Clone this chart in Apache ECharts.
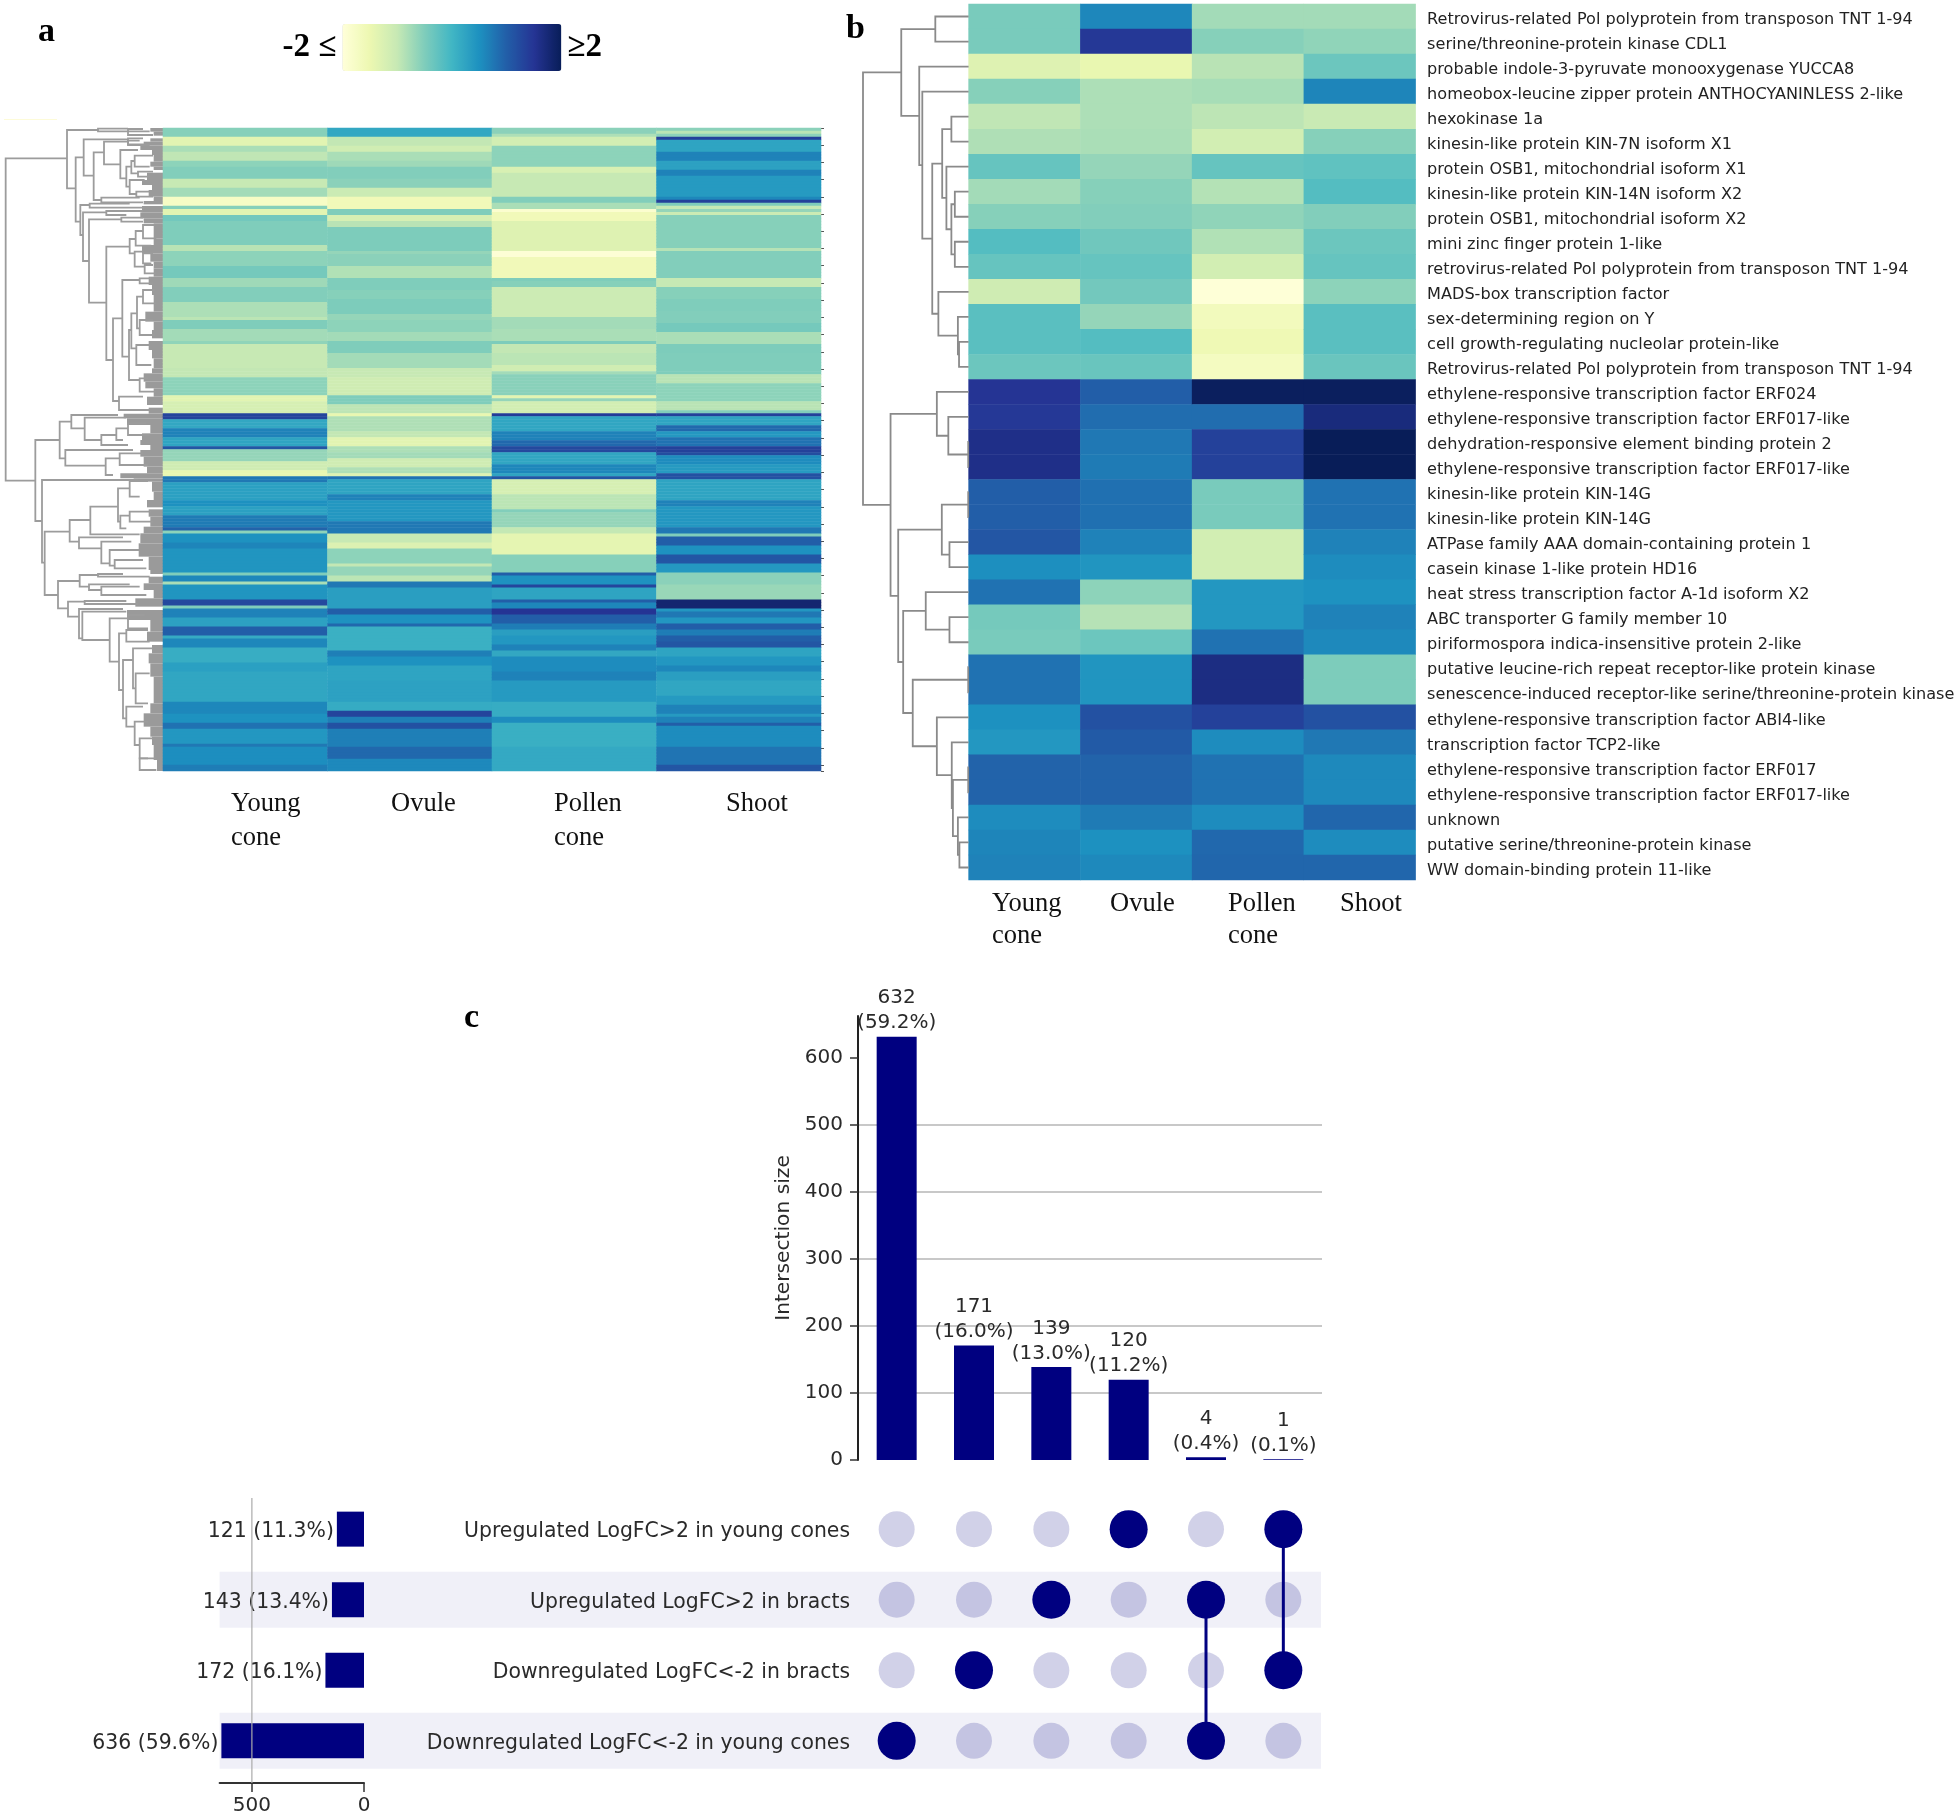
<!DOCTYPE html>
<html>
<head>
<meta charset="utf-8">
<title>Heatmaps and UpSet plot</title>
<style>html,body{margin:0;padding:0;background:#fff}#chart{width:1960px;height:1818px}</style>
<script src="https://cdn.jsdelivr.net/npm/echarts@6/dist/echarts.min.js"></script>
</head>
<body>
<div id="chart"></div>
<script>
// ---------- Shared ----------
const tissues = ['Young cone', 'Ovule', 'Pollen cone', 'Shoot'];
const ylGnBu = ['#ffffd9','#edf8b1','#c7e9b4','#7fcdbb','#41b6c4','#1d91c0','#225ea8','#253494','#081d58'];

// ---------- Panel a: read as bands [first row, z-score] per tissue ----------
const rowCountA = 214;
const youngBands = [[0,-.55],[3,-1.35],[6,-.8],[8,-.95],[11,-.6],[13,-.52],[17,-1],[20,-.75],[23,-1.75],[26,-.55],[27,-1.35],[29,-.4],[31,-.5],[39,-.9],[41,-.6],[46,-.42],[50,-.72],[53,-.52],[58,-.82],[63,-.92],[64,-.5],[67,-.75],[71,-.62],[72,-1],[80,-.97],[83,-.6],[89,-1.35],[91,-1.2],[95,1.3],[97,.2],[100,.65],[103,.25],[106,1.1],[107,-.65],[111,-1.1],[114,-1.45],[116,.75],[118,.3],[124,.5],[126,.3],[129,.72],[133,.95],[134,-.6],[135,.48],[138,.62],[140,.45],[148,-.5],[149,.6],[151,-.8],[152,.45],[157,1.25],[159,-.5],[160,.65],[163,.28],[166,1],[169,.15],[170,.6],[173,.12],[178,.3],[181,.22],[191,.6],[195,.48],[198,.8],[200,.42],[205,.75],[206,.53],[212,.7]];
const ovuleBands = [[0,.2],[3,-.97],[6,-1.12],[8,-.8],[11,-.72],[13,-.52],[17,-.58],[20,-1.05],[23,-1.6],[27,-.5],[29,-1.2],[31,-.9],[33,-.48],[41,-.65],[42,-.58],[46,-.85],[50,-.5],[54,-.55],[57,-.48],[62,-.65],[64,-.6],[68,-.75],[71,-.5],[75,-.75],[80,-1],[83,-1.1],[89,-.5],[92,-.93],[95,-1.45],[96,-.83],[101,-.97],[103,-1.35],[106,-.82],[108,-.75],[110,-1.1],[113,-.83],[115,-1.3],[116,.8],[117,.25],[122,.65],[124,.42],[131,.75],[135,-1],[138,-1.28],[140,-.6],[145,-.97],[146,-.65],[149,-.92],[151,.75],[153,.32],[160,1],[162,.48],[165,.9],[166,.08],[174,.68],[176,.48],[179,.25],[184,.28],[191,.15],[194,1.3],[196,.68],[198,1.15],[200,.68],[206,.9],[210,.58]];
const pollenBands = [[0,-.58],[2,-.82],[3,-1.15],[6,-.6],[13,-1.22],[15,-1],[23,-.52],[25,-.8],[27,-1.88],[28,-1.6],[31,-1.3],[41,-1.95],[43,-1.6],[50,-.5],[51,-.55],[53,-1.07],[63,-.75],[67,-.8],[71,-.48],[72,-.97],[75,-.92],[79,-1.12],[81,-.75],[82,-.57],[89,-1.35],[90,-.65],[91,-1.15],[95,1.4],[96,.22],[101,.65],[104,.9],[106,1.25],[108,.22],[112,.6],[115,.25],[116,1.1],[117,-1.2],[122,-.92],[127,-.52],[128,-.65],[133,-.98],[135,-1.4],[142,-.55],[148,1],[149,.48],[152,1.3],[153,.25],[157,1],[158,.6],[160,1.5],[162,1],[165,.7],[167,.32],[169,.42],[172,.65],[174,.2],[176,.55],[181,.65],[184,.38],[191,.14],[196,.55],[198,.1],[206,.18]];
const shootBands = [[0,-.58],[1,-.92],[2,-.6],[3,1.35],[4,.25],[8,.65],[11,.28],[14,.65],[16,.38],[23,.6],[24,1.35],[25,-.5],[26,-1],[27,-.65],[28,-1.05],[29,-.55],[40,-.88],[41,-.52],[50,-1],[53,-.55],[57,-.5],[61,-.52],[65,-.42],[68,-.8],[72,-.48],[75,-.5],[82,-.9],[85,-.6],[91,-.9],[94,-.52],[95,1.35],[96,.25],[99,.9],[101,.4],[103,.8],[106,1.35],[108,1.2],[109,.55],[112,.38],[115,1.15],[117,.25],[124,.65],[126,.42],[133,.75],[135,-.5],[136,1],[139,.48],[142,1.1],[145,.4],[148,-.58],[152,-.68],[157,1.8],[160,.42],[161,.75],[163,.42],[165,1],[167,.7],[169,1],[171,1.1],[173,.25],[176,.42],[179,.6],[181,.32],[184,.22],[189,.38],[192,.65],[195,.38],[196,.65],[198,1],[199,.55],[206,.78],[212,1.1]];

// Panel a dendrogram: merges [distance, top leaf pos, bottom leaf pos, top child distance, bottom child distance]
const dendroAMerges = [
[472,100,1067,288,383],[288,15,190,195,262],[195,11,19,105,40],[105,12,30,60,30],[262,97,290,238,248],[238,43,152,105,208],[105,40,58,60,50],[208,82,225,177,185],[177,50,118,105,128],[105,47,60,70,40],[128,75,160,75,110],[110,125,185,95,100],[95,108,145,85,75],[85,92,125,30,40],[75,140,155,30,40],[100,165,207,55,80],[80,200,215,40,30],[185,218,232,70,60],
[248,240,330,220,240],[220,236,248,100,55],[240,262,408,170,222],[170,258,270,60,110],[222,283,533,125,170],[125,278,290,60,60],[170,365,705,100,150],[100,342,385,82,85],[82,318,362,60,35],[60,300,340,25,20],[85,380,425,60,55],[60,385,415,30,35],[55,420,445,30,20],[150,580,828,122,132],[122,465,695,70,102],[70,460,475,35,30],[102,615,765,95,70],[95,565,670,78,80],[78,515,610,60,70],[60,495,535,25,20],[70,585,630,30,25],[80,660,720,40,35],[70,760,800,45,20],[132,815,855,60,40],
[383,945,1188,310,363],[310,890,1000,275,293],[275,870,910,135,235],[235,878,945,110,185],[185,930,960,140,105],[140,910,945,105,120],[105,895,930,50,40],[293,975,1022,90,172],[172,1000,1050,130,150],[130,985,1020,60,45],
[363,1065,1313,75,355],[355,1220,1410,280,315],[280,1185,1250,218,252],[218,1145,1228,135,70],[135,1090,1190,100,128],[100,1068,1115,45,70],[128,1172,1210,100,110],[100,1160,1190,35,30],[252,1237,1270,120,185],[185,1250,1315,95,160],[160,1275,1322,70,145],[145,1305,1330,60,50],
[315,1368,1450,250,285],[250,1350,1385,195,222],[195,1347,1355,120,40],[222,1378,1395,100,185],[185,1385,1410,70,50],[285,1430,1475,235,252],[235,1428,1437,110,75],[252,1452,1540,120,242],[242,1460,1545,110,160],[160,1480,1610,105,132],[105,1470,1510,55,45],[132,1525,1695,110,120],[110,1515,1550,45,40],[120,1605,1780,90,110],[90,1570,1690,30,82],[82,1645,1735,40,45],[110,1745,1805,60,85],[85,1790,1860,45,70],[70,1840,1900,30,45],[70,1900,1935,20,20]
];
// Dense leaf area of the dendrogram: [first pos, last pos, depth]
const dendroALeaves = [
[9,20,38],[20,32,28],[40,50,38],[50,62,58],[62,75,68],[75,90,33],[90,110,28],[110,125,38],[125,135,28],[143,165,48],[165,180,63],[180,195,33],[195,215,43],[215,228,28],[228,238,58],[243,262,63],[262,280,68],[280,295,58],[295,315,28],[315,340,28],[340,360,28],[360,385,63],[385,410,38],[410,430,28],[430,455,28],[455,480,43],[480,510,33],[510,540,28],[540,560,28],[560,590,53],[590,615,28],[615,640,33],[648,675,43],[675,700,33],[700,730,28],[730,745,33],[745,770,58],[770,790,53],[790,815,28],[815,840,48],[848,866,43],[866,880,118],[880,900,108],[900,925,38],[925,945,63],[945,960,68],[960,975,38],[975,995,68],[995,1025,58],[1025,1045,48],[1045,1060,128],[1060,1070,88],[1070,1100,33],[1100,1125,28],[1125,1147,48],[1153,1175,43],[1175,1205,38],[1205,1225,58],[1225,1255,68],[1255,1295,73],[1295,1335,43],[1335,1347,38],[1355,1375,43],[1375,1395,58],[1395,1420,28],[1420,1445,83],[1455,1485,108],[1485,1520,38],[1520,1550,48],[1560,1585,33],[1585,1615,43],[1615,1655,38],[1655,1695,28],[1695,1735,28],[1735,1765,38],[1765,1805,58],[1805,1835,38],[1835,1860,33],[1860,1905,28],[1905,1938,18]
];

// ---------- Panel b ----------
const geneLabels = ['Retrovirus-related Pol polyprotein from transposon TNT 1-94','serine/threonine-protein kinase CDL1','probable indole-3-pyruvate monooxygenase YUCCA8','homeobox-leucine zipper protein ANTHOCYANINLESS 2-like','hexokinase 1a','kinesin-like protein KIN-7N isoform X1','protein OSB1, mitochondrial isoform X1','kinesin-like protein KIN-14N isoform X2','protein OSB1, mitochondrial isoform X2','mini zinc finger protein 1-like','retrovirus-related Pol polyprotein from transposon TNT 1-94','MADS-box transcription factor','sex-determining region on Y','cell growth-regulating nucleolar protein-like','Retrovirus-related Pol polyprotein from transposon TNT 1-94','ethylene-responsive transcription factor ERF024','ethylene-responsive transcription factor ERF017-like','dehydration-responsive element binding protein 2','ethylene-responsive transcription factor ERF017-like','kinesin-like protein KIN-14G','kinesin-like protein KIN-14G','ATPase family AAA domain-containing protein 1','casein kinase 1-like protein HD16','heat stress transcription factor A-1d isoform X2','ABC transporter G family member 10','piriformospora indica-insensitive protein 2-like','putative leucine-rich repeat receptor-like protein kinase','senescence-induced receptor-like serine/threonine-protein kinase','ethylene-responsive transcription factor ABI4-like','transcription factor TCP2-like','ethylene-responsive transcription factor ERF017','ethylene-responsive transcription factor ERF017-like','unknown','putative serine/threonine-protein kinase','WW domain-binding protein 11-like'];
const youngB  = [-.45,-.45,-1.3,-.55,-.95,-.83,-.3,-.75,-.55,-.15,-.3,-1.1,-.2,-.2,-.35,1.5,1.45,1.6,1.6,1,1,1.1,.52,.8,-.42,-.45,.8,.8,.5,.42,.95,.95,.55,.62,.65];
const ovuleB  = [.6,1.45,-1.45,-.82,-.82,-.8,-.65,-.55,-.52,-.38,-.3,-.4,-.65,-.15,-.32,1,.85,.75,.72,.82,.82,.65,.45,-.6,-.88,-.35,.45,.45,1.15,1.05,.95,.95,.72,.5,.58];
const pollenB = [-.75,-.55,-.9,-.78,-.93,-1.15,-.3,-.87,-.62,-.85,-1.15,-1.98,-1.65,-1.55,-1.7,1.95,.85,1.35,1.35,-.45,-.45,-1.15,-1.15,.42,.42,.8,1.65,1.65,1.35,.55,.8,.8,.55,.9,.92];
const shootB  = [-.75,-.62,-.35,.62,-1.03,-.55,-.25,-.15,-.52,-.35,-.3,-.6,-.2,-.2,-.33,1.95,1.7,2,2,.8,.8,.65,.55,.48,.65,.58,-.48,-.48,1.15,.75,.58,.58,.92,.55,.92];
// Panel b dendrogram: node = [distance, child, child], leaf = row index
const dendroBTree = [276,
  [176,[87,0,1],[129,2,[121,3,[95,[69,[45,4,5],[58,6,[45,[36,7,8],[36,9,10]]]],[79,11,[28,12,[25,13,14]]]]]]],
  [204,[83,15,[53,16,[1,17,18]]],[184,[70,[1,19,20],[50,21,22]],[171,[112,23,[50,24,25]],[146,[1,26,27],[83,28,[44,29,[41,[1,30,31],[28,32,[24,33,34]]]]]]]]]
];

// ---------- Panel c ----------
const setNames = ['Upregulated LogFC>2 in young cones','Upregulated LogFC>2 in bracts','Downregulated LogFC<-2 in bracts','Downregulated LogFC<-2 in young cones'];
const setSizes = [121,143,172,636];
const setPercents = ['11.3%','13.4%','16.1%','59.6%'];
const intersectionSizes = [632,171,139,120,4,1];
const intersectionPercents = ['59.2%','16.0%','13.0%','11.2%','0.4%','0.1%'];
const intersectionSets = [[3],[2],[1],[0],[1,3],[0,2]];
const intersectionTicks = [0,100,200,300,400,500,600];
const setSizeTicks = [0,500];
const shadedRows = [0,1,0,1];

// ---------- Helpers ----------
const navy = '#000080', txt = '#2a2a2a', sans = '"DejaVu Sans"', serif = '"Liberation Serif"';
function expandBands(bands, n){
  const out = []; let k = 0;
  for (let r = 0; r < n; r++){ while (k + 1 < bands.length && bands[k+1][0] <= r) k++; out.push(bands[k][1]); }
  return out;
}
const colA = [youngBands, ovuleBands, pollenBands, shootBands].map(b => expandBands(b, rowCountA));
const rowsA = Array.from({length: rowCountA}, (_, i) => String(i));
const heatA = []; colA.forEach((c, x) => c.forEach((v, y) => heatA.push([x, y, v])));
const heatB = []; [youngB, ovuleB, pollenB, shootB].forEach((c, x) => c.forEach((v, y) => heatB.push([x, y, v])));

function walkTree(node, out){
  if (typeof node === 'number') return {d: 0, y: node + 0.5};
  const a = walkTree(node[1], out), b = walkTree(node[2], out);
  out.push([node[0], a.y, b.y, a.d, b.d]);
  return {d: node[0], y: (a.y + b.y) / 2};
}
const dendroBMerges = []; walkTree(dendroBTree, dendroBMerges);

const renderMerge = color => (p, api) => {
  const d = api.value(0), y1 = api.value(1), y2 = api.value(2), d1 = api.value(3), d2 = api.value(4);
  return {type:'polyline', shape:{points:[api.coord([d1,y1]),api.coord([d,y1]),api.coord([d,y2]),api.coord([d2,y2])]},
    style:{stroke:color, lineWidth:1.8, fill:null}, silent:true};
};
const renderLeaf = (p, api) => {
  const a = api.coord([api.value(2), api.value(0)]), b = api.coord([0, api.value(1)]);
  return {type:'rect', shape:{x:a[0], y:a[1], width:b[0]-a[0], height:b[1]-a[1]}, style:{fill:'#9a9a9a'}, silent:true};
};

function tissueText(lefts, y, gap){
  const out = [];
  tissues.forEach((t, i) => t.split(' ').forEach((w, j) => out.push({type:'text', left:lefts[i], top:y + j*gap - 12,
    style:{text:w, font:'26.5px '+serif, fill:'#111'}})));
  return out;
}
const letter = (t, x, y) => ({type:'text', left:x, top:y, style:{text:t, font:'bold 34px '+serif, fill:'#000'}});

const gridDefs = [
  {left:163, top:128, width:658, height:643},
  {left:3, top:128, width:160, height:643},
  {left:968.6, top:4, width:447, height:876},
  {left:863, top:4, width:105.6, height:876},
  {left:858, top:1016, width:464, height:444},
  {left:219.6, top:1493.85, width:1101.4, height:282.3},
  {left:219.6, top:1493.85, width:144.4, height:282.3},
  {left:219.6, top:1498, width:144.4, height:285},
  {left:858, top:1493.85, width:464, height:282.3}
];
const hiddenV = (g, o) => Object.assign({type:'value', gridIndex:g, show:false}, o);
const hiddenC = (g, data, o) => Object.assign({type:'category', gridIndex:g, data, show:false}, o);
const tissueAxis = g => ({type:'category', gridIndex:g, data:tissues, axisLine:{show:false},
  axisTick:{alignWithLabel:true, length:5, lineStyle:{color:'#333', width:1.5}}, axisLabel:{show:false}, splitLine:{show:false}});

const comboIdx = intersectionSizes.map((_, i) => String(i));
const dots = [];
intersectionSets.forEach((members, x) => setNames.forEach((_, y) => {
  const on = members.includes(y);
  dots.push({value:[x, y], symbolSize:on ? 38 : 36, itemStyle:{color:on ? navy : 'rgba(0,0,128,0.18)', opacity:1}});
}));
const connectors = intersectionSets.filter(m => m.length > 1).map(m => ({
  type:'line', xAxisIndex:8, yAxisIndex:8, showSymbol:false, silent:true, z:3,
  lineStyle:{color:navy, width:3},
  data:[[intersectionSets.indexOf(m), m[0]],[intersectionSets.indexOf(m), m[m.length-1]]]
}));

const option = {
  backgroundColor:'#fff',
  animation:false,
  grid:gridDefs,
  visualMap:{
    type:'continuous', min:-2, max:2, seriesIndex:[0,2], dimension:2, orient:'horizontal', calculable:false, hoverLink:false,
    left:267.5, top:9, itemWidth:47, itemHeight:219, text:['≥2','-2 ≤'], textGap:6,
    textStyle:{fontFamily:serif, fontWeight:'bold', fontSize:33, color:'#000'},
    inRange:{color:ylGnBu}
  },
  xAxis:[
    tissueAxis(0),
    hiddenV(1,{min:0, max:480, inverse:true}),
    tissueAxis(2),
    hiddenV(3,{min:0, max:276, inverse:true}),
    {type:'category', gridIndex:4, data:comboIdx, axisLine:{show:false}, axisTick:{show:false}, axisLabel:{show:false}},
    hiddenV(5,{min:0, max:1}),
    hiddenV(6,{min:0, max:644, inverse:true}),
    {type:'value', gridIndex:7, min:0, max:644, inverse:true, interval:500, splitLine:{show:false},
      axisLine:{show:true, lineStyle:{color:'#333', width:2}},
      axisTick:{show:true, length:9, customValues:setSizeTicks, lineStyle:{color:'#333', width:1.5}},
      axisLabel:{customValues:setSizeTicks, fontFamily:sans, fontSize:20, color:txt, margin:13}},
    {type:'category', gridIndex:8, data:comboIdx, show:false}
  ],
  yAxis:[
    hiddenC(0, rowsA, {inverse:true}),
    hiddenV(1,{min:9, max:1938, inverse:true}),
    {type:'category', gridIndex:2, data:geneLabels, inverse:true, position:'right', axisLine:{show:false},
      axisTick:{alignWithLabel:true, length:6, lineStyle:{color:'#333', width:1.5}},
      axisLabel:{interval:0, margin:11.5, align:'left', formatter:v => '{g|' + v + '}',
        rich:{g:{fontFamily:sans, fontSize:16.1, color:'#222', padding:[6,0,0,0]}}}},
    hiddenV(3,{min:0, max:35, inverse:true}),
    {type:'value', gridIndex:4, min:0, max:663, interval:100,
      axisLine:{show:true, lineStyle:{color:'#222', width:2}},
      axisTick:{show:true, length:8, customValues:intersectionTicks, lineStyle:{color:'#333', width:1.5}},
      axisLabel:{customValues:intersectionTicks, fontFamily:sans, fontSize:20, color:txt, margin:15},
      splitLine:{show:true, showMinLine:false, showMaxLine:false, lineStyle:{color:'#c8c8c8', width:2}},
      name:'Intersection size', nameLocation:'middle', nameGap:64, nameRotate:90,
      nameTextStyle:{fontFamily:sans, fontSize:20.2, color:txt}},
    hiddenC(5, setNames, {inverse:true}),
    hiddenC(6, setNames, {inverse:true}),
    hiddenV(7,{min:0, max:1}),
    {type:'category', gridIndex:8, data:setNames, inverse:true, axisLine:{show:false}, axisTick:{show:false},
      axisLabel:{interval:0, margin:8, formatter:v => '{s|' + v + '}',
        rich:{s:{fontFamily:sans, fontSize:20.4, color:txt, padding:[5,0,0,0]}}}},
    {type:'value', gridIndex:0, min:0, max:rowCountA, interval:5.73, inverse:true, position:'right',
      axisLine:{show:false}, axisTick:{show:true, length:3, lineStyle:{color:'#555'}}, axisLabel:{show:false}, splitLine:{show:false}}
  ],
  series:[
    {type:'heatmap', xAxisIndex:0, yAxisIndex:0, data:heatA, silent:true, progressive:0},
    {type:'custom', xAxisIndex:1, yAxisIndex:1, data:dendroALeaves, renderItem:renderLeaf, silent:true, clip:false, z:1},
    {type:'heatmap', xAxisIndex:2, yAxisIndex:2, data:heatB, silent:true, progressive:0},
    {type:'custom', xAxisIndex:1, yAxisIndex:1, data:dendroAMerges, renderItem:renderMerge('#9c9c9c'), silent:true, clip:false, z:2},
    {type:'custom', xAxisIndex:3, yAxisIndex:3, data:dendroBMerges, renderItem:renderMerge('#8a8a8a'), silent:true, clip:false},
    {type:'bar', xAxisIndex:4, yAxisIndex:4, data:intersectionSizes, barWidth:40, z:3, silent:true, itemStyle:{color:navy},
      label:{show:true, position:'top', distance:1, fontFamily:sans, fontSize:20, lineHeight:25, color:txt,
        formatter:p => p.value + '\n(' + intersectionPercents[p.dataIndex] + ')'}},
    {type:'bar', xAxisIndex:5, yAxisIndex:5, data:shadedRows, barWidth:56, z:0, silent:true, itemStyle:{color:'#f0f0f8'}},
    {type:'bar', xAxisIndex:6, yAxisIndex:6, data:setSizes, barWidth:35, z:3, silent:true, itemStyle:{color:navy},
      label:{show:true, position:'left', distance:3, formatter:p => '{s|' + p.value + ' (' + setPercents[p.dataIndex] + ')}',
        rich:{s:{fontFamily:sans, fontSize:20.4, color:txt, padding:[5,0,0,0]}}}},
    {type:'line', xAxisIndex:7, yAxisIndex:7, data:[[500,0],[500,1]], showSymbol:false, silent:true, z:6,
      lineStyle:{color:'#aaaaaa', width:1.2}},
    {type:'scatter', xAxisIndex:8, yAxisIndex:8, data:dots, silent:true, z:2},
    ...connectors
  ],
  graphic:{elements:[
    letter('a', 38, 15), letter('b', 846, 12), letter('c', 464, 1001),
    {type:'rect', left:4, top:119, shape:{width:53, height:1}, style:{fill:'#fdfbd8'}},
    ...tissueText([231,391,554,726], 803, 34),
    ...tissueText([992,1110,1228,1340], 903, 32)
  ]}
};
const chart = echarts.init(document.getElementById('chart'), null, {renderer:'canvas'});
chart.setOption(option);
</script>
</body>
</html>
